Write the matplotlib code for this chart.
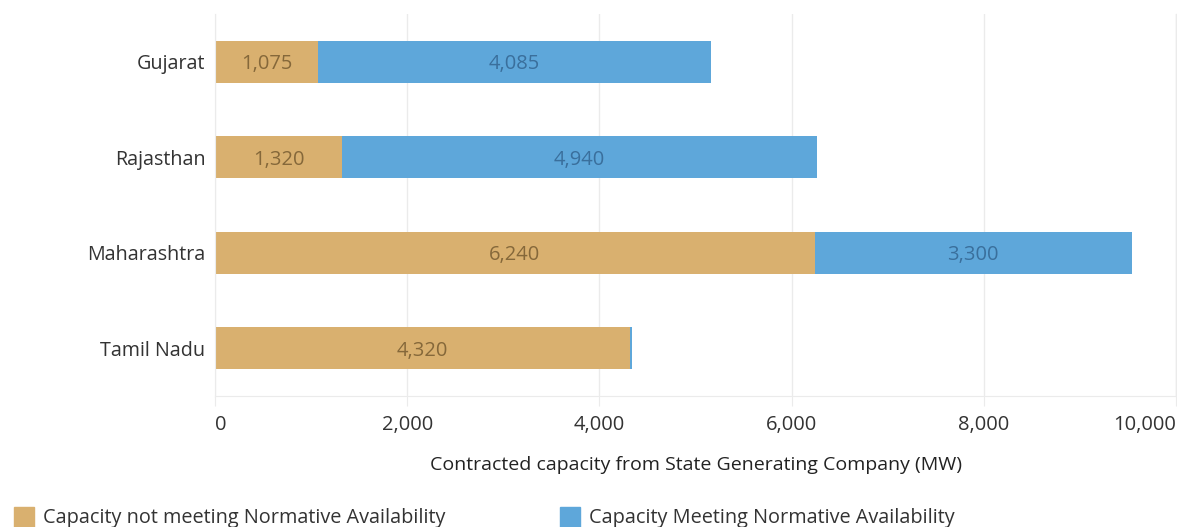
import matplotlib
matplotlib.use("Agg")
import matplotlib.pyplot as plt
from matplotlib.patches import Rectangle

plt.rcParams['font.family'] = ['Open Sans', 'DejaVu Sans']

states = ["Gujarat", "Rajasthan", "Maharashtra", "Tamil Nadu"]
not_meeting = [1075, 1320, 6240, 4320]
meeting = [4085, 4940, 3300, 20]
show_meeting_label = [True, True, True, False]
x_ticks = [0, 2000, 4000, 6000, 8000, 10000]
x_tick_labels = ["0", "2,000", "4,000", "6,000", "8,000", "10,000"]
legend_labels = ["Capacity not meeting Normative Availability",
                 "Capacity Meeting Normative Availability"]

TAN = "#D9B06F"
BLUE = "#5EA7DA"
TAN_TXT = "#85683A"
BLUE_TXT = "#3A6F9C"
GRID = "#EBEBEB"
TXT = "#333333"

W, H = 1177, 527
fig = plt.figure(figsize=(W / 100, H / 100), dpi=100)
ax = fig.add_axes([215 / W, 1 - 396 / H, (1176 - 215) / W, (396 - 14) / H])

ypos = list(range(len(states)))
ax.barh(ypos, not_meeting, height=0.44, color=TAN, zorder=2)
ax.barh(ypos, meeting, left=not_meeting, height=0.44, color=BLUE, zorder=2)

for y, a, b, show in zip(ypos, not_meeting, meeting, show_meeting_label):
    ax.text(a / 2, y, f"{a:,}", ha="center", va="center_baseline", fontsize=14.5,
            color=TAN_TXT, zorder=3)
    if show:
        ax.text(a + b / 2, y, f"{b:,}", ha="center", va="center_baseline",
                fontsize=14.5, color=BLUE_TXT, zorder=3)

ax.set_xlim(0, 10000)
ax.set_ylim(3.5, -0.5)
ax.set_yticks(ypos)
ax.set_yticklabels(states, fontsize=14.2, color=TXT)
ax.tick_params(axis="y", length=0, pad=7)

ax.set_xticks(x_ticks)
ax.set_xticklabels(x_tick_labels, fontsize=14.5, color=TXT)
ax.tick_params(axis="x", length=7, color=GRID, pad=7)
tl = ax.get_xticklabels()
tl[0].set_ha("left")
tl[-1].set_ha("right")

for s in ["top", "right"]:
    ax.spines[s].set_visible(False)
ax.spines["left"].set_color(GRID)
ax.spines["bottom"].set_color(GRID)
ax.grid(axis="x", color=GRID, linewidth=1, zorder=0)
ax.set_axisbelow(True)
ax.axvline(10000, color=GRID, linewidth=1, zorder=0, clip_on=False)

ax.set_xlabel("Contracted capacity from State Generating Company (MW)",
              fontsize=14, color="#222222", labelpad=15)

# legend along the bottom edge
for x0, col, lab in [(14, TAN, legend_labels[0]), (560, BLUE, legend_labels[1])]:
    fig.patches.append(Rectangle((x0 / W, 0), 20 / W, (527 - 507) / H,
                                 transform=fig.transFigure, color=col))
    fig.text((x0 + 29) / W, 1 - 518 / H, lab, fontsize=14.3, color=TXT,
             va="center", ha="left")

fig.savefig("out.png", dpi=100)
